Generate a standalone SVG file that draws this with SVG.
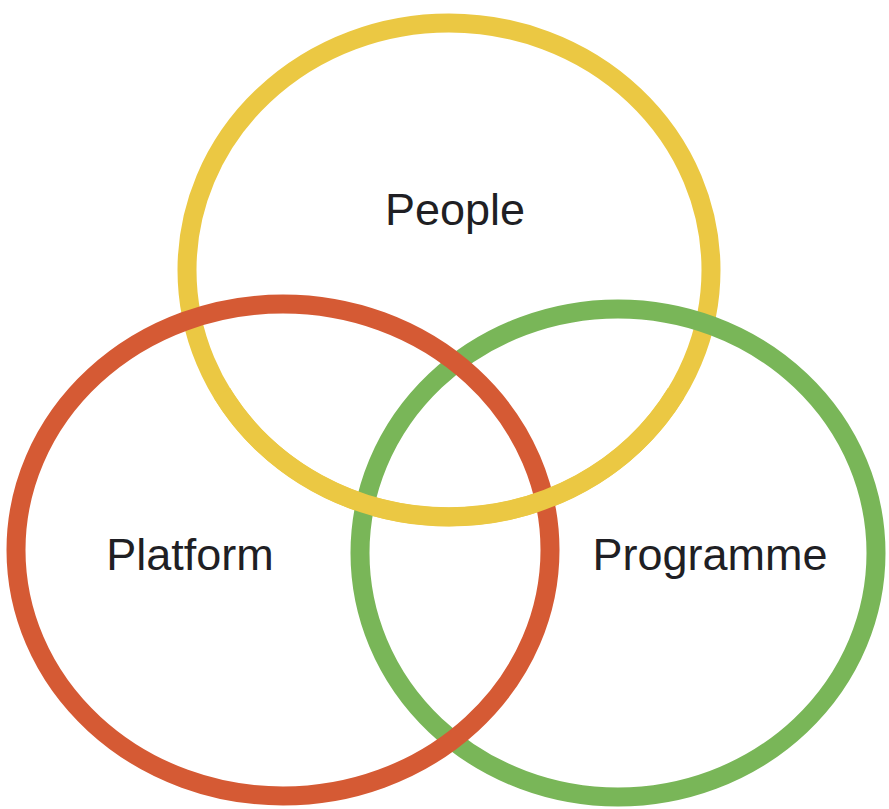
<svg xmlns="http://www.w3.org/2000/svg" width="889" height="809" viewBox="0 0 889 809">
<style>
.ring{fill:none;stroke-width:19}
.y{stroke:#EBC843}
.r{stroke:#D55A34}
.g{stroke:#79B658}
.lbl{font-family:"Liberation Sans",Arial,sans-serif;font-size:45px;fill:#1f1f24;text-anchor:middle}
</style>
<rect width="889" height="809" fill="#ffffff"/>
<g id="people">
<ellipse class="ring y" cx="449" cy="270" rx="262" ry="247"/>
<text class="lbl" x="455" y="225">People</text>
</g>
<g id="programme">
<ellipse class="ring g" cx="618" cy="553" rx="258" ry="244"/>
<text class="lbl" x="710" y="570">Programme</text>
</g>
<g id="platform">
<ellipse class="ring r" cx="283" cy="550" rx="267" ry="246"/>
<text class="lbl" x="190" y="570">Platform</text>
</g>
<g id="people-overlap">
<path class="ring y" d="M676 393 A262 247 0 0 1 222 393"/>
</g>
</svg>
